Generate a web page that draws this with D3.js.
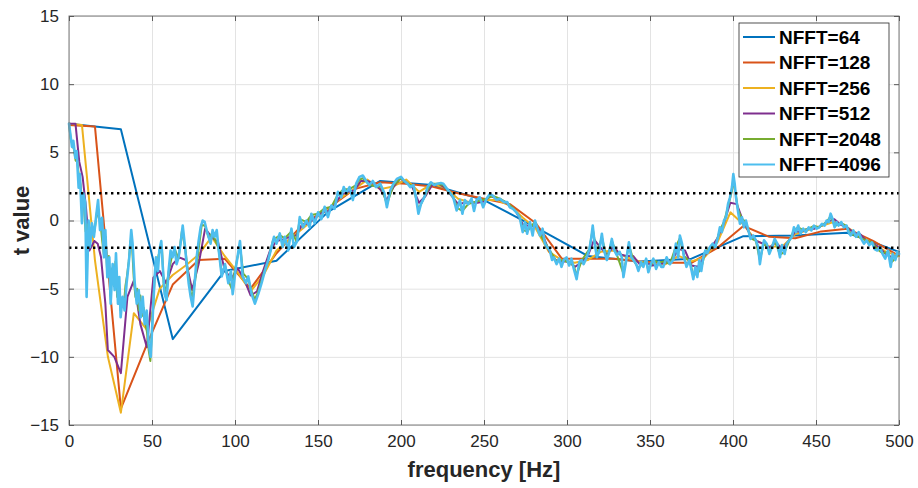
<!DOCTYPE html>
<html>
<head>
<meta charset="utf-8">
<script src="https://cdn.jsdelivr.net/npm/d3@7"></script>
<style>
  body { margin: 0; background: #fff; }
  text { font-family: "Liberation Sans", Arial, Helvetica, sans-serif; }
  .grid line { stroke: #e3e3e3; }
  .grid .domain { display: none; }
  .ticks line { stroke: #5a5a5a; }
  .ticks .domain { display: none; }
  .ticks text { fill: #262626; font-size: 17px; }
  .series { fill: none; stroke-linejoin: round; stroke-linecap: round; }
</style>
</head>
<body>
<script>
// sampling rate -> bin spacing = FS / NFFT
const FS = 2000;

// NFFT=64, 128, 256: one t value per FFT bin (0..500 Hz)
const t64 = [7.1, 6.7, -8.7, -3.7, -2.95, 0.65, 2.9, 2.6, 1.5, -0.5, -2.6, -3.0, -2.8, -1.15, -1.1, -0.9, -2.3];

const t128 = [7.0, 6.9, -13.8, -9.1, -4.7, -2.9, -2.8, -5.0, -2.4, -0.3, 0.9, 2.3, 2.8, 2.7, 2.5, 2.0, 1.6,
  1.2, -0.2, -2.8, -2.8, -2.8, -3.0, -3.1, -3.1, -2.0, -0.4, -1.2, -1.3, -0.8, -0.6, -1.5, -2.6];

const t256 = [7.1, 7.0, -2.9, -10.0, -14.1, -6.8, -8.0, -5.0, -4.0, -3.3,
  -2.5, -1.2, -2.6, -3.8, -5.2, -4.0, -2.2, -1.4, -0.6, 0.2,
  0.8, 1.7, 2.3, 3.0, 2.3, 2.5, 3.0, 2.1, 2.7, 2.4,
  1.6, 1.3, 1.5, 1.5, 1.1, 0.2, -0.6, -2.3, -2.9, -3.1,
  -2.9, -2.3, -2.2, -2.7, -3.0, -3.2, -3.2, -2.6, -3.0, -2.7,
  -1.6, 0.6, -0.3, -1.5, -1.9, -1.9, -1.0, -0.7, -0.4, -0.1,
  -0.5, -1.1, -1.7, -2.3, -2.6];

// NFFT=512, 2048, 4096: [frequency, t]
const t512 = [[0,7.1],[3.9,7.1],[6.2,4.3],[8.2,3.2],[10.2,1.0],[12.3,-2.2],[15.3,-1.5],[17.3,-1.7],[19.3,-2.7],
  [21.9,-6.1],[23.4,-9.5],[27.3,-10.0],[31.25,-11.2],[35.2,-5.6],[39.1,-4.4],[43.0,-7.6],[46.9,-9.3],[50.8,-4.2],
  [54.7,-3.7],[58.6,-4.6],[62.5,-3.2],[66.4,-2.7],[70.3,-2.9],[74.2,-5.1],[78.1,-3.2],[82.0,-0.6],[85.9,-1.2],
  [89.8,-1.6],[93.75,-3.6],[97.7,-4.3],[101.6,-3.5],[105.5,-4.3],[109.4,-5.5],[113.3,-5.2],[117.2,-3.6],
  [121.1,-2.2],[125,-1.5],[128.9,-1.4],[132.8,-1.2],[136.7,-1.1],[140.6,-0.3],[144.5,-0.2],[148.4,0.2],
  [152.3,0.6],[156.25,0.7],[160.2,1.2],[164.1,1.9],[168,2.1],[171.9,2.2],[175.8,2.9],[179.7,2.9],[183.6,2.7],
  [187.5,2.3],[191.4,1.5],[195.3,2.4],[199.2,3.1],[203.1,2.8],[207,2.4],[210.9,1.3],[214.8,1.8],[218.75,2.6],
  [222.7,2.7],[226.6,2.4],[230.5,1.8],[234.4,1.2],[238.3,1.3],[242.2,1.3],[246.1,1.3],[250,1.4],[253.9,1.8],
  [257.8,1.6],[261.7,1.4],[265.6,1.1],[269.5,0.6],[273.4,-0.3],[277.3,-0.4],[281.25,-0.4],[285.2,-1.0],
  [289.1,-2.2],[293,-2.9],[296.9,-3.0],[300.8,-3.0],[304.7,-3.4],[308.6,-3.1],[312.5,-2.6],[316.4,-1.4],
  [320.3,-2.0],[324.2,-2.5],[328.1,-1.9],[332,-2.5],[335.9,-2.6],[339.8,-2.6],[343.75,-3.2],[347.7,-3.1],
  [351.6,-3.3],[355.5,-3.2],[359.4,-3.1],[363.3,-2.9],[367.2,-2.1],[371.1,-2.2],[375,-3.3],[378.9,-3.4],
  [382.8,-2.6],[386.7,-2.0],[390.6,-1.3],[394.5,-0.2],[398.4,1.3],[402.3,1.2],[406.25,-0.1],[410.2,-1.0],
  [414.1,-1.5],[418,-1.7],[421.9,-2.0],[425.8,-1.6],[429.7,-2.1],[433.6,-1.5],[437.5,-0.8],[441.4,-0.8],
  [445.3,-0.6],[449.2,-0.6],[453.1,-0.4],[457,-0.1],[460.9,0.1],[464.8,-0.3],[468.75,-0.5],[472.7,-0.9],
  [476.6,-1.0],[480.5,-1.5],[484.4,-1.7],[488.3,-2.0],[492.2,-2.5],[496.1,-2.7],[500,-2.5]];

const t2048 = [[0,7.1],[1,6.0],[2,5.6],[3,5.2],[4,4.4],[5,4.3],[6,3.2],[7,2.6],[8,1.2],[9,1.0],[10,-0.8],
  [11,-0.3],[12,-1.5],[13,-0.8],[14,-0.5],[15,-1.0],[16,-0.2],[17,0.8],[18,0.2],[19,-0.2],[20,-1.5],[21,-2.5],
  [22,-1.2],[23,-3.8],[24,-2.6],[25,-5.5],[26,-3.5],[27,-4.8],[28,-3.0],[29,-5.6],[30,-4.3],[31,-6.6],[32,-5.8],
  [33,-6.3],[34,-4.8],[35,-4.0],[36,-3.0],[37,-1.5],[38,-1.9],[39,-4.2],[40,-5.6],[41,-5.0],[42,-6.6],[43,-5.5],
  [44,-7.0],[45,-6.4],[46,-7.5],[47,-8.2],[48,-9.5],[49,-10.3],[50,-8.0],[51,-5.5],[52,-3.5],[53,-3.3],[54,-2.5],
  [56,-2.0],[57,-4.6],[58,-5.4],[60,-3.8],[62,-2.6],[64,-2.2],[66,-2.8],[68,-0.8],[70,-2.0],[72,-4.2],[74,-5.8],
  [76,-4.4],[78,-2.2],[80,-0.3],[82,-0.4],[84,-1.2],[86,-1.0],[88,-1.4],[90,-2.0],[92,-3.9],[94,-3.3],[96,-4.4],
  [98,-5.0],[100,-3.6],[103,-1.8],[105,-3.9],[108,-4.3],[110,-5.2],[112,-5.8],[114,-5.2],[116,-4.4],[118,-3.6],
  [120,-2.9],[123,-1.4],[127,-1.1],[130,-1.3],[134,-0.8],[137,-1.5],[139,0.1],[143,-0.1],[146,0.4],[150,0.5],
  [154,0.9],[158,1.0],[162,1.9],[165.5,2.3],[169,2.3],[173,2.6],[175,3.0],[177,3.1],[181,2.6],[185,2.5],
  [188,2.5],[191.5,1.2],[195.5,2.6],[200,3.1],[204,2.7],[207.5,2.5],[210.5,0.8],[214,1.7],[218,2.7],[222,2.7],
  [225.5,2.6],[231.5,1.7],[234,0.9],[237,0.7],[240.5,1.2],[245.5,1.4],[251.5,1.6],[255.5,1.8],[259.5,1.6],
  [264,1.3],[267.5,0.9],[271.5,0.3],[273.3,-0.7],[276,-0.8],[280.7,-0.1],[283.7,-1.0],[286.7,-1.6],[289.7,-2.2],
  [293.7,-3.0],[298,-2.9],[304,-3.3],[305.8,-4.0],[309,-2.9],[313.5,-2.1],[315.5,-0.6],[318,-2.5],[321,-1.2],
  [324,-2.8],[327,-1.5],[330,-2.5],[334,-3.9],[337.3,-1.8],[340,-2.9],[343,-3.5],[347.7,-2.9],[349,-3.7],
  [352,-2.9],[355.3,-3.1],[358.4,-3.0],[362,-3.2],[365.6,-1.9],[368,-1.3],[370.5,-2.6],[374,-3.0],[376.1,-4.0],
  [378.5,-3.9],[380.9,-3.5],[383.3,-2.3],[386.1,-2.0],[389.3,-1.9],[392.1,-0.7],[394.6,-0.1],[397,1.0],
  [399.4,2.2],[400.2,3.0],[401.8,1.8],[403,0.8],[405.4,0.1],[407.8,-0.1],[410.6,-1.3],[413.8,-1.5],[416.2,-2.9],
  [418.7,-1.6],[421.9,-2.3],[425.1,-1.5],[428.3,-2.5],[431.1,-2.3],[433.9,-1.5],[436.7,-0.7],[439.3,-0.5],
  [442.3,-0.7],[445.6,-0.6],[448.8,-0.4],[452,-0.5],[456.4,-0.1],[458.8,0.3],[461.2,-0.4],[465.2,-0.2],
  [468.4,-0.4],[470.9,-1.0],[474.1,-1.1],[477.3,-1.3],[480.5,-1.5],[483.7,-1.6],[486.9,-2.1],[490.1,-2.4],
  [493.4,-2.3],[495,-3.1],[497.8,-2.8],[500,-2.4]];

const t4096 = [[0,7.1],[1.8,5.4],[2.6,5.85],[3.8,4.6],[4.6,5.1],[5.8,2.4],[6.6,3.4],[7.8,-0.2],[8.6,2.0],[9.8,1.3],
  [10.6,-5.6],[11.8,0.0],[12.6,-1.95],[13.8,-0.2],[15.0,-1.2],[16.3,0.25],[17.5,1.5],[18.7,-0.7],[19.9,0.2],
  [21.1,-2.7],[21.9,-0.7],[23.1,-4.15],[24.3,-2.7],[25.1,-6.1],[26.3,-3.2],[27.5,-5.1],[28.3,-2.4],[29.5,-6.1],
  [30.3,-4.15],[31.1,-7.1],[32.3,-5.6],[33.5,-6.6],[34.7,-4.6],[35.5,-3.7],[36.3,-2.7],[37.5,-0.7],[38.3,-1.7],
  [39.6,-4.6],[40.8,-6.1],[42,-5.1],[43.2,-7.1],[44.4,-5.6],[45.6,-7.6],[46.8,-6.6],[48,-9.0],[49.2,-10.0],
  [50.0,-8.1],[50.8,-6.1],[51.6,-4.15],[52.4,-2.7],[53.6,-3.7],[54.4,-2.2],[55.6,-1.5],[56.4,-3.2],[57.6,-5.4],
  [58.8,-5.85],[60,-3.7],[61.2,-2.2],[62.4,-2.7],[63.6,-1.95],[64.8,-3.2],[66,-2.7],[67.2,-1.7],[68.5,-0.37],
  [69.7,-1.7],[70.9,-3.2],[72.1,-4.6],[73.3,-5.6],[74.5,-6.3],[75.7,-4.6],[76.9,-2.7],[78.1,-1.5],[79.3,-0.5],
  [80.5,0],[81.7,-0.1],[82.9,-0.7],[84.1,-1.2],[85.3,-1.7],[86.5,-0.7],[87.7,-1.2],[89,-0.7],[90,-1.95],
  [92,-4.1],[94,-3.2],[96,-4.6],[97.5,-3.7],[98.6,-5.4],[100.6,-3.4],[103,-1.5],[104.6,-4.1],[106.6,-4.6],
  [108,-4.1],[110,-5.4],[112,-6.1],[114,-5.4],[116,-4.6],[118,-3.7],[120,-2.9],[122,-1.95],[123.5,-1.2],
  [125,-1.7],[127,-0.95],[128.7,-1.95],[130,-1.2],[132,-2.2],[134,-0.6],[135.5,-1.95],[137.5,-1.5],[139,0.25],
  [141,-0.5],[143,0.0],[145,-0.5],[146,0.5],[148,-0.2],[150,0.6],[152,0.1],[154,1.0],[156,0.25],[158,1.1],
  [160,0.85],[162,2.1],[164,1.7],[165.5,2.45],[167,2.0],[169,2.45],[171,1.5],[173,2.7],[175,3.2],[177,3.3],
  [179,2.9],[181,2.6],[183,2.9],[185,2.45],[187.5,2.7],[190,2.0],[191.5,0.97],[193.5,2.2],[195.5,2.7],
  [197.5,3.05],[200,3.2],[202,2.9],[204,2.7],[205.5,2.45],[207.5,2.6],[209,1.7],[210.5,0.5],[212,1.2],
  [214,1.7],[216,2.45],[218,2.8],[220,2.6],[222,2.7],[224,2.75],[225.5,2.7],[228.5,2.2],[231.5,1.7],
  [233.5,0.73],[235.5,1.5],[237,0.5],[238.5,1.5],[240.5,1.2],[242.5,1.6],[244,0.7],[245.5,1.5],[247.5,1.7],
  [249.5,0.97],[251.5,1.6],[253.5,1.95],[255.5,1.8],[257.5,1.5],[259.5,1.6],[262,1.35],[264,1.35],[265.5,0.97],
  [267.5,0.85],[269.5,0.6],[271.5,0.24],[273.3,-0.85],[274.7,-0.12],[276,-0.97],[277.7,-0.12],[279.3,-1.1],
  [280.7,0.0],[282,-0.5],[283.7,-1.1],[285.3,-0.6],[286.7,-1.7],[288,-1.95],[289.7,-2.2],[291,-2.9],[292,-2.7],
  [293.7,-3.2],[295.3,-2.8],[296.7,-3.4],[298,-2.9],[299.7,-2.7],[301.3,-3.3],[302.7,-2.8],[304,-3.5],
  [305.8,-4.3],[307.4,-3.05],[308.8,-2.9],[310,-3.2],[311.9,-2.7],[313.5,-2.1],[314.7,-1.2],[315.5,-0.37],
  [316.7,-1.7],[318,-2.7],[319.5,-2.2],[321,-0.97],[322.3,-2.2],[324,-2.9],[325.5,-2.3],[327,-1.35],
  [328.5,-2.2],[330,-2.55],[331.7,-2.3],[333,-2.7],[334,-4.15],[335.7,-2.9],[337.3,-1.6],[338.7,-2.7],
  [340,-2.9],[341.7,-3.2],[343,-3.7],[344.6,-3.05],[346,-3.4],[347.7,-2.8],[349,-3.8],[350.5,-3.2],[352,-2.8],
  [353.7,-3.55],[355.3,-3.05],[356.8,-3.4],[358,-3.4],[360,-2.7],[362,-3.2],[364,-2.9],[365.6,-1.7],[367,-2.7],
  [368,-1.1],[369.3,-1.7],[370.5,-2.7],[372,-3.4],[373.7,-2.9],[375.1,-3.7],[376.1,-4.3],[377.3,-3.4],
  [378.5,-4.15],[379.7,-2.9],[380.9,-3.7],[382.1,-2.7],[383.3,-2.2],[384.5,-2.4],[386.1,-1.95],[387.7,-1.7],
  [389.3,-1.95],[391,-1.2],[392.1,-0.5],[393.3,-0.85],[394.6,0.0],[395.8,0.24],[397,1.2],[398.2,1.7],
  [399.4,2.45],[400.2,3.4],[401,2.7],[401.8,1.7],[403,0.7],[404.2,-0.24],[405.4,0.24],[406.6,-0.5],[407.8,0.0],
  [409.2,-0.7],[410.6,-1.35],[412.2,-1.1],[413.8,-1.45],[415.2,-1.95],[416.2,-3.2],[417.4,-2.2],[418.7,-1.45],
  [420.3,-1.7],[421.9,-2.45],[423.5,-1.95],[425.1,-1.35],[426.7,-1.7],[428.3,-2.7],[429.5,-1.8],[431.1,-2.45],
  [432.3,-1.7],[433.9,-1.45],[435.5,-1.2],[436.7,-0.5],[437.9,-0.85],[439.3,-0.37],[440.7,-0.97],[442.3,-0.6],
  [443.9,-0.85],[445.6,-0.5],[447.2,-0.73],[448.8,-0.37],[450.4,-0.6],[452,-0.5],[453.6,-0.24],[455.2,-0.37],
  [456.4,0.0],[457.6,-0.12],[458.8,0.5],[460,0.12],[461.2,-0.5],[462.4,-0.12],[463.6,-0.37],[465.2,-0.12],
  [466.8,-0.5],[468.4,-0.37],[469.6,-0.85],[470.9,-1.1],[472.5,-0.73],[474.1,-1.2],[475.7,-0.85],[477.3,-1.35],
  [478.9,-1.7],[480.5,-1.45],[482.1,-1.8],[483.7,-1.6],[485.3,-2.1],[486.9,-2.2],[488.5,-1.95],[490.1,-2.45],
  [491.7,-2.8],[493.4,-2.2],[495,-3.4],[496.2,-2.45],[497.8,-2.9],[499,-2.3],[500,-2.45]];

const labels = ["NFFT=64", "NFFT=128", "NFFT=256", "NFFT=512", "NFFT=2048", "NFFT=4096"];
const colors = ["#0072BD", "#D95319", "#EDB120", "#7E2F8E", "#77AC30", "#4DBEEE"];
const thresholds = [2, -2];
const xTicks = d3.range(0, 501, 50);
const yTicks = d3.range(-15, 16, 5);

const width = 918, height = 488;
const margin = { top: 16, right: 19, bottom: 63, left: 69 };

const svg = d3.select("body").append("svg").attr("width", width).attr("height", height);

const x = d3.scaleLinear().domain([0, 500]).range([margin.left, width - margin.right]);
const y = d3.scaleLinear().domain([-15, 15]).range([height - margin.bottom, margin.top]);

const binned = (vals, nfft) => vals.map((v, i) => [i * FS / nfft, v]);
const series = [
  binned(t64, 64), binned(t128, 128), binned(t256, 256), t512, t2048, t4096
].map((pts, i) => ({ label: labels[i], color: colors[i], pts }));

// grid
svg.append("g").attr("class", "grid")
  .attr("transform", `translate(0,${y(-15)})`)
  .call(d3.axisBottom(x).tickValues(xTicks).tickSize(-(y(-15) - y(15))).tickFormat(""));
svg.append("g").attr("class", "grid")
  .attr("transform", `translate(${x(0)},0)`)
  .call(d3.axisLeft(y).tickValues(yTicks).tickSize(-(x(500) - x(0))).tickFormat(""));

// data lines
const line = d3.line().x(d => x(d[0])).y(d => y(d[1]));
svg.append("g").selectAll("path")
  .data(series)
  .join("path")
  .attr("class", "series")
  .attr("stroke", d => d.color)
  .attr("stroke-width", (d, i) => i === 5 ? 2.6 : 2)
  .attr("d", d => line(d.pts));

// threshold lines
svg.append("g").selectAll("line")
  .data(thresholds)
  .join("line")
  .attr("x1", x(0)).attr("x2", x(500))
  .attr("y1", d => y(d)).attr("y2", d => y(d))
  .attr("stroke", "#000").attr("stroke-width", 2.4)
  .attr("stroke-dasharray", "2.4,3.6");

// frame + inward ticks
svg.append("rect")
  .attr("x", x(0)).attr("y", y(15))
  .attr("width", x(500) - x(0)).attr("height", y(-15) - y(15))
  .attr("fill", "none").attr("stroke", "#7a7a7a").attr("stroke-width", 1);

svg.append("g").attr("class", "ticks")
  .attr("transform", `translate(0,${y(-15)})`)
  .call(d3.axisBottom(x).tickValues(xTicks).tickSize(-5).tickPadding(10));
svg.append("g").attr("class", "ticks")
  .attr("transform", `translate(0,${y(15)})`)
  .call(d3.axisTop(x).tickValues(xTicks).tickSize(-5).tickFormat(""));
svg.append("g").attr("class", "ticks")
  .attr("transform", `translate(${x(0)},0)`)
  .call(d3.axisLeft(y).tickValues(yTicks).tickSize(-5).tickPadding(10));
svg.append("g").attr("class", "ticks")
  .attr("transform", `translate(${x(500)},0)`)
  .call(d3.axisRight(y).tickValues(yTicks).tickSize(-5).tickFormat(""));

// axis labels
svg.append("text")
  .attr("x", (x(0) + x(500)) / 2).attr("y", 477)
  .attr("text-anchor", "middle")
  .attr("font-size", 22).attr("font-weight", "bold").attr("fill", "#262626")
  .text("frequency [Hz]");
svg.append("text")
  .attr("transform", `translate(29,${y(0)}) rotate(-90)`)
  .attr("text-anchor", "middle")
  .attr("font-size", 22).attr("font-weight", "bold").attr("fill", "#262626")
  .text("t value");

// legend
const lg = svg.append("g").attr("transform", "translate(739,23)");
lg.append("rect")
  .attr("width", 150).attr("height", 154)
  .attr("fill", "#fff").attr("stroke", "#262626").attr("stroke-width", 0.8);
const items = lg.selectAll("g.item")
  .data(series)
  .join("g")
  .attr("class", "item")
  .attr("transform", (d, i) => `translate(0,${14 + i * 25.5})`);
items.append("line")
  .attr("x1", 4).attr("x2", 36)
  .attr("stroke", d => d.color).attr("stroke-width", 2);
items.append("text")
  .attr("x", 40).attr("dy", "0.35em")
  .attr("font-size", 19).attr("font-weight", "bold").attr("fill", "#000")
  .text(d => d.label);
</script>
</body>
</html>
